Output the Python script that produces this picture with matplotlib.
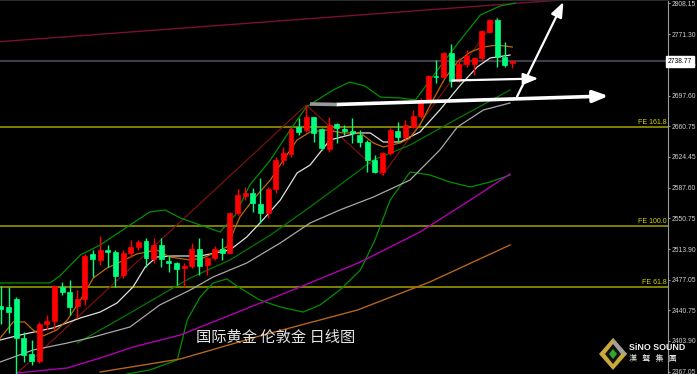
import matplotlib

matplotlib.use("Agg")
import matplotlib.pyplot as plt
from matplotlib.patches import Polygon
import numpy as np

# daily candles, London gold
opens = [2445.7, 2444.5, 2454.1, 2407.4, 2388.3, 2379.9, 2424.2, 2427.8, 2468.5, 2462.5,
         2445.7, 2454.1, 2508.0, 2500.8, 2512.8, 2510.4, 2482.8, 2509.2, 2516.4, 2523.6,
         2502.0, 2518.8, 2499.6, 2497.2, 2491.2, 2493.6, 2514.0, 2494.8, 2503.2, 2514.0,
         2509.2, 2557.1, 2577.4, 2581.0, 2567.9, 2557.1, 2585.8, 2620.5, 2627.7, 2660.0,
         2656.5, 2672.0, 2657.6, 2633.7, 2663.6, 2657.6, 2655.3, 2650.5, 2642.1, 2620.5,
         2606.2, 2628.9, 2655.3, 2648.1, 2660.0, 2673.2, 2692.4, 2721.1, 2719.9, 2748.6,
         2715.1, 2735.5, 2735.5, 2742.7, 2773.8, 2788.2, 2743.9, 2736.7]
highs = [2469.7, 2468.5, 2456.5, 2414.6, 2405.0, 2426.6, 2435.0, 2470.9, 2474.5, 2476.9,
         2465.0, 2508.0, 2512.8, 2529.5, 2518.8, 2512.8, 2512.8, 2524.7, 2524.7, 2527.1,
         2527.1, 2527.1, 2506.8, 2498.4, 2497.2, 2521.2, 2527.1, 2504.4, 2517.6, 2527.1,
         2558.3, 2585.8, 2588.2, 2587.0, 2599.0, 2588.2, 2624.1, 2636.1, 2658.8, 2670.8,
         2686.4, 2672.0, 2658.8, 2672.0, 2664.8, 2662.4, 2670.8, 2656.5, 2644.5, 2626.5,
         2630.1, 2658.8, 2666.0, 2668.4, 2680.4, 2694.8, 2722.3, 2740.3, 2749.8, 2759.4,
         2742.7, 2752.2, 2743.9, 2776.2, 2789.4, 2790.6, 2761.8, 2739.1]
lows = [2424.2, 2413.4, 2364.3, 2378.7, 2375.1, 2377.5, 2417.0, 2417.0, 2458.9, 2435.0,
        2431.4, 2446.9, 2480.5, 2494.8, 2492.4, 2468.5, 2479.3, 2504.4, 2512.8, 2492.4,
        2497.2, 2492.4, 2486.4, 2470.9, 2468.5, 2491.2, 2482.8, 2482.8, 2500.8, 2500.8,
        2508.0, 2554.7, 2572.6, 2558.3, 2545.1, 2551.1, 2581.0, 2614.5, 2624.1, 2650.5,
        2654.1, 2642.1, 2632.5, 2630.1, 2640.9, 2650.5, 2640.9, 2636.1, 2606.2, 2605.0,
        2602.6, 2626.5, 2642.1, 2645.7, 2658.8, 2670.8, 2690.0, 2712.7, 2718.7, 2707.9,
        2713.9, 2731.9, 2722.3, 2740.3, 2772.6, 2731.9, 2731.9, 2730.7]
closes = [2442.1, 2438.5, 2407.4, 2387.1, 2379.9, 2424.2, 2427.8, 2469.7, 2462.5, 2444.5,
          2454.1, 2505.6, 2502.0, 2512.8, 2510.4, 2481.6, 2509.2, 2516.4, 2522.4, 2503.2,
          2518.8, 2502.0, 2497.2, 2490.0, 2493.6, 2514.0, 2493.6, 2503.2, 2514.0, 2509.2,
          2557.1, 2578.6, 2581.0, 2569.1, 2557.1, 2585.8, 2620.5, 2628.9, 2657.6, 2654.1,
          2672.0, 2652.9, 2634.9, 2662.4, 2658.8, 2655.3, 2652.9, 2642.1, 2620.5, 2606.2,
          2628.9, 2656.5, 2648.1, 2662.4, 2673.2, 2692.4, 2721.1, 2719.9, 2748.6, 2715.1,
          2735.5, 2745.1, 2742.7, 2775.0, 2788.2, 2743.9, 2734.3, 2738.77]
last_price = 2738.77

# indicator lines: (bar index, price) samples
bb_upper_x = [-0.1, 6.4, 7.7, 10.4, 13.0, 16.9, 19.5, 21.5, 23.5, 26.1, 28.7, 30.7, 32.6, 35.3,
              37.9, 40.0, 43.5, 45.7, 47.7, 49.7, 52.3, 54.3, 57.5, 60.2, 62.8, 65.4, 67.4]
bb_upper_y = [2473.3, 2473.3, 2481.6, 2506.8, 2518.8, 2542.7, 2558.3, 2560.7, 2551.1, 2542.7,
              2534.3, 2554.7, 2590.6, 2620.5, 2656.5, 2684.0, 2704.3, 2713.9, 2709.1, 2695.9,
              2694.8, 2692.4, 2731.9, 2764.2, 2794.1, 2804.9, 2808.5]
bb_lower_x = [16.5, 19.5, 23.1, 24.4, 26.1, 27.8, 29.6, 31.1, 33.9, 36.6, 39.6, 41.8, 44.4,
              47.1, 49.0, 51.0, 53.6, 56.2, 58.8, 61.5, 64.1, 66.7]
bb_lower_y = [2364.3, 2369.1, 2381.1, 2429.0, 2456.5, 2473.3, 2478.1, 2468.5, 2452.9, 2444.5,
              2438.5, 2446.9, 2464.9, 2488.8, 2524.8, 2572.6, 2606.2, 2602.6, 2594.2, 2588.2,
              2594.2, 2602.6]
ma_orange_x = [-0.1, 1.6, 3.1, 4.2, 5.5, 7.3, 8.7, 10.4, 12.1, 13.9, 15.6, 17.8, 20.4, 22.1,
               24.8, 26.5, 29.6, 31.3, 33.0, 35.3, 37.0, 38.8, 40.5, 42.7, 44.8, 47.1, 48.8,
               50.1, 52.3, 53.6, 54.9, 56.6, 58.2, 59.8, 61.5, 63.2, 65.0, 67.0]
ma_orange_y = [2407.4, 2426.6, 2426.6, 2417.0, 2409.8, 2417.0, 2429.0, 2452.9, 2479.3, 2491.2,
               2498.4, 2508.0, 2512.8, 2504.4, 2500.8, 2503.2, 2516.4, 2552.3, 2572.6, 2596.6,
               2620.5, 2644.5, 2654.1, 2656.5, 2652.9, 2652.9, 2640.9, 2636.1, 2640.9, 2646.9,
               2662.4, 2692.4, 2718.7, 2737.9, 2749.8, 2755.8, 2758.2, 2755.8]
ma_white_x = [-0.1, 2.5, 6.8, 10.4, 13.0, 15.2, 17.3, 18.9, 20.4, 22.5, 26.1, 30.0, 32.2,
              34.3, 36.6, 38.8, 40.5, 43.1, 46.7, 48.4, 50.1, 52.3, 54.9, 57.5, 60.2, 62.4,
              64.1, 66.7]
ma_white_y = [2405.0, 2411.0, 2419.4, 2431.4, 2438.5, 2449.3, 2468.5, 2492.4, 2504.4, 2505.6,
              2505.6, 2512.8, 2528.3, 2548.7, 2572.6, 2605.0, 2614.5, 2644.5, 2652.9, 2652.9,
              2642.1, 2642.1, 2654.1, 2680.4, 2710.3, 2731.9, 2742.7, 2746.2]
ma_gray_x = [-0.1, 4.2, 8.7, 12.1, 16.9, 20.8, 24.8, 27.8, 32.2, 36.6, 40.5, 44.4, 48.8,
             53.6, 57.5, 59.8, 63.2, 66.7]
ma_gray_y = [2378.7, 2393.0, 2401.4, 2408.6, 2420.6, 2446.9, 2464.9, 2480.5, 2497.2, 2521.2,
             2545.1, 2560.7, 2576.2, 2596.6, 2632.5, 2660.0, 2680.4, 2688.8]
ma_green_x = [10.0, 16.9, 24.8, 30.0, 35.3, 40.5, 44.4, 48.8, 53.6, 60.2, 66.7]
ma_green_y = [2401.4, 2437.3, 2479.3, 2500.8, 2530.7, 2564.3, 2590.6, 2620.5, 2638.5, 2672.0,
              2704.3]
ma_purple_x = [2.1, 8.7, 13.0, 17.3, 23.5, 31.7, 39.2, 47.1, 54.9, 61.5, 66.7]
ma_purple_y = [2365.5, 2371.5, 2383.5, 2396.6, 2411.0, 2440.9, 2468.5, 2498.4, 2534.3, 2572.6,
               2603.8]
ma_brown_x = [13.0, 23.5, 33.9, 46.7, 56.2, 66.7]
ma_brown_y = [2366.7, 2382.3, 2409.8, 2440.9, 2474.5, 2518.8]

# Fibonacci expansion levels
fe_labels = ["FE 61.8", "FE 100.0", "FE 161.8"]
fe_levels = [2468.3, 2541.5, 2659.8]

# drawn objects
channel_x = [-0.13, 74.0]
channel_y = [2762.2, 2812.5]
zigzag_x = [2, 40, 50, 65]
zigzag_y = [2364.3, 2686.4, 2602.6, 2790.6]
arrows = [  # (x0, y0, x1, y1, width)
    (44.0, 2687.0, 79.6, 2697.2, 2.6),
    (59.1, 2715.7, 70.4, 2718.1, 1.6),
    (67.6, 2696.0, 73.7, 2809.7, 1.6),
]

yticks = [2808.15, 2771.30, 2734.45, 2697.60, 2660.75, 2624.45, 2587.60, 2550.75,
          2513.90, 2477.05, 2440.75, 2403.90, 2367.05]

UP = "#ff0000"
DOWN = "#00ff7f"

fig = plt.figure(figsize=(6.97, 3.74), dpi=100, facecolor="black")
ax = fig.add_axes([0, 0, 668 / 697, 1], facecolor="black")
ax.set_xlim(-0.13, 87.4)
ax.set_ylim(2364.3, 2812.1)

# reference lines
for lvl, lab in zip(fe_levels, fe_labels):
    ax.axhline(lvl, color="#8a8a00", lw=1.3, zorder=1)
    ax.text(87.2, lvl + 1.5, lab, color="#d8d800", fontsize=5, ha="right", va="bottom",
            family="Liberation Sans", zorder=6)
ax.axhline(last_price, color="#3e3e4a", lw=1.6, zorder=1)
ax.plot(channel_x, channel_y, color="#7a1030", lw=1, zorder=1)
ax.plot(zigzag_x, zigzag_y, color="#8a1010", lw=0.8, zorder=2)

# indicators
ax.plot(bb_upper_x, bb_upper_y, color="#009000", lw=0.9, zorder=3)
ax.plot(bb_lower_x, bb_lower_y, color="#009000", lw=0.9, zorder=3)
ax.plot(ma_green_x, ma_green_y, color="#007a00", lw=0.9, zorder=3)
ax.plot(ma_purple_x, ma_purple_y, color="#b000b0", lw=1.0, zorder=3)
ax.plot(ma_brown_x, ma_brown_y, color="#b5651d", lw=1.0, zorder=3)
ax.plot(ma_gray_x, ma_gray_y, color="#a8a8a8", lw=0.9, zorder=3)
ax.plot(ma_white_x, ma_white_y, color="#e0e0e0", lw=0.9, zorder=3)
ax.plot(ma_orange_x, ma_orange_y, color="#c06a00", lw=0.9, zorder=3)

# candles
x = np.arange(len(opens))
o = np.array(opens)
c = np.array(closes)
colors = [UP if cc >= oo else DOWN for oo, cc in zip(o, c)]
ax.vlines(x, lows, highs, colors=colors, lw=1.0, zorder=4)
bottoms = np.minimum(o, c)
heights = np.maximum(np.abs(c - o), 0.8)
ax.bar(x, heights, bottom=bottoms, width=0.65, color=colors, edgecolor=colors, lw=0.5,
       zorder=5)

# arrows
for x0, y0, x1, y1, w in arrows:
    ax.annotate("", xy=(x1, y1), xytext=(x0, y0),
                arrowprops=dict(arrowstyle="-|>,head_length=0.9,head_width=0.35",
                                color="white", lw=w, shrinkA=0, shrinkB=0),
                zorder=7)
ax.plot([40.5, 44.0], [2687.6, 2687.0], color="#9a9a9a", lw=2.6, solid_capstyle="butt",
        zorder=7)

# axis styling
for side in ["left", "bottom"]:
    ax.spines[side].set_visible(False)
ax.spines["right"].set_color("#9a9a9a")
ax.spines["top"].set_color("#2a2a2a")
ax.set_xticks([])
ax.yaxis.tick_right()
ax.set_yticks(yticks)
ax.set_yticklabels([f"{t:.2f}" for t in yticks], family="Liberation Sans")
ax.tick_params(axis="y", direction="out", length=1.5, color="#9a9a9a", labelsize=4.9,
               labelcolor="#cfcfcf", pad=1.0)

ax.text(1.0, last_price, f"{last_price:.2f}", transform=ax.get_yaxis_transform(),
        ha="left", va="center", fontsize=4.9, family="Liberation Sans", color="black",
        bbox=dict(boxstyle="square,pad=0.3", fc="white", ec="white"), zorder=10,
        clip_on=False)

# title text
fig.text(196 / 697, 1 - 337 / 374, "国际黄金 伦敦金 日线图", color="#e4e4e4", fontsize=11,
         family=["Noto Sans CJK SC", "DejaVu Sans"], va="center", ha="left")

# logo
lax = fig.add_axes([596 / 697, 0, 101 / 697, 40 / 374])
lax.set_xlim(0, 101)
lax.set_ylim(0, 40)
lax.axis("off")
lax.patch.set_alpha(0)
lax.add_patch(Polygon([(17, 36), (31, 20), (17, 4), (3, 20)], closed=True, fc="#c9a93a",
                      ec="none"))
lax.add_patch(Polygon([(17, 36), (31, 20), (17, 20)], closed=True, fc="#a0a0a0", ec="none"))
lax.add_patch(Polygon([(17, 30), (25, 20), (17, 10), (9, 20)], closed=True, fc="#111111",
                      ec="none"))
lax.add_patch(Polygon([(17, 25), (21, 20), (17, 15), (13, 20)], closed=True, fc="#2fa82f",
                      ec="none"))
lax.text(33, 26, "SiNO SOUND", color="#f0f0f0", fontsize=6.4, fontweight="bold",
         family="Liberation Sans", va="center", ha="left")
lax.text(33, 15.5, "漢   聲   集   團", color="#e8e8e8", fontsize=5.8,
         family=["Noto Sans CJK TC", "DejaVu Sans"], va="center", ha="left")

fig.savefig("out.png", dpi=100, facecolor="black")
